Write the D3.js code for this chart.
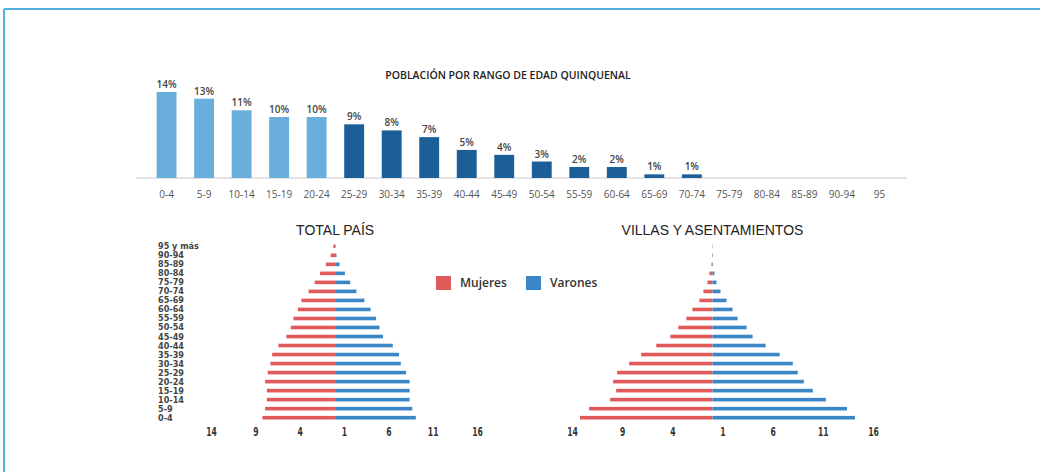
<!DOCTYPE html>
<html>
<head>
<meta charset="utf-8">
<script src="https://cdn.jsdelivr.net/npm/d3@7"></script>
<style>
  body { margin: 0; background: #fff; }
  svg { display: block; font-family: "Open Sans", "DejaVu Sans", sans-serif; }
</style>
</head>
<body>
<svg id="chart" width="1040" height="472"></svg>
<script>
// data
const ageGroups = ["0-4","5-9","10-14","15-19","20-24","25-29","30-34","35-39","40-44","45-49",
                   "50-54","55-59","60-64","65-69","70-74","75-79","80-84","85-89","90-94","95"];
const sharePct = [14.1, 13.0, 11.1, 10.0, 10.0, 8.8, 7.8, 6.7, 4.6, 3.8,
                  2.7, 1.8, 1.8, 0.6, 0.6, 0, 0, 0, 0, 0];
const shareLabels = ["14%","13%","11%","10%","10%","9%","8%","7%","5%","4%",
                     "3%","2%","2%","1%","1%","","","","",""];

const pyramidAges = ["0-4","5-9","10-14","15-19","20-24","25-29","30-34","35-39","40-44","45-49",
                     "50-54","55-59","60-64","65-69","70-74","75-79","80-84","85-89","90-94","95 y más"];
const paisMujeres = [8.2, 7.9, 7.7, 7.7, 7.9, 7.6, 7.3, 7.1, 6.4, 5.5,
                     5.0, 4.7, 4.2, 3.8, 3.0, 2.3, 1.7, 1.05, 0.5, 0.2];
const paisVarones = [9.1, 8.7, 8.4, 8.4, 8.4, 8.0, 7.4, 7.2, 6.5, 5.4,
                     5.0, 4.6, 4.0, 3.3, 2.4, 1.7, 1.1, 0.5, 0.15, 0.05];
const villasMujeres = [13.2, 12.3, 10.2, 9.6, 9.9, 9.5, 8.3, 7.1, 5.6, 4.2,
                       3.4, 2.6, 2.0, 1.3, 0.9, 0.5, 0.3, 0.1, 0.05, 0.02];
const villasVarones = [14.2, 13.4, 11.3, 10.0, 9.1, 8.5, 8.0, 6.7, 5.3, 4.0,
                       3.4, 2.5, 2.0, 1.4, 0.8, 0.4, 0.2, 0.05, 0.03, 0.02];
const pyramidTicks = [-14, -9, -4, 1, 6, 11, 16];

const svg = d3.select("#chart");

// frame
svg.append("line").attr("x1", 4).attr("x2", 1040).attr("y1", 9).attr("y2", 9)
  .attr("stroke", "#4fb3db").attr("stroke-width", 2);
svg.append("line").attr("x1", 4).attr("x2", 4).attr("y1", 9).attr("y2", 472)
  .attr("stroke", "#4fb3db").attr("stroke-width", 2);

// top bar chart
const xBar = d3.scaleBand().domain(ageGroups).range([139, 907]).padding(0.47);
const yBar = d3.scaleLinear().domain([0, 14.1]).range([178, 92]);

svg.append("text").attr("x", 508).attr("y", 79).attr("text-anchor", "middle")
  .attr("font-size", 10.5).attr("font-weight", 600).attr("fill", "#222")
  .text("POBLACIÓN POR RANGO DE EDAD QUINQUENAL");

svg.append("line").attr("x1", 136).attr("x2", 907).attr("y1", yBar(0)).attr("y2", yBar(0))
  .attr("stroke", "#c8c8c8").attr("stroke-width", 1.2);

svg.selectAll(".bar").data(ageGroups).join("rect")
  .attr("class", "bar")
  .attr("x", d => xBar(d))
  .attr("width", xBar.bandwidth())
  .attr("y", (d, i) => yBar(sharePct[i]))
  .attr("height", (d, i) => yBar(0) - yBar(sharePct[i]))
  .attr("fill", (d, i) => i < 5 ? "#6aaedc" : "#1c5f98");

svg.selectAll(".barlab").data(ageGroups).join("text")
  .attr("class", "barlab")
  .attr("x", d => xBar(d) + xBar.bandwidth() / 2)
  .attr("y", (d, i) => yBar(sharePct[i]) - 4)
  .attr("text-anchor", "middle").attr("font-size", 10).attr("font-weight", 600)
  .attr("fill", "#444")
  .text((d, i) => shareLabels[i]);

svg.selectAll(".cat").data(ageGroups).join("text")
  .attr("class", "cat")
  .attr("x", d => xBar(d) + xBar.bandwidth() / 2)
  .attr("y", 198)
  .attr("text-anchor", "middle").attr("font-size", 10).attr("fill", "#555")
  .text(d => d);

// pyramids
const yPyr = d3.scaleBand().domain(pyramidAges).range([419.5, 244.5]).paddingInner(0.6);

function pyramid(x0, x1, mujeres, varones, title, showAges) {
  const x = d3.scaleLinear().domain([-14, 16]).range([x0, x1]);
  const g = svg.append("g");
  g.append("text").attr("x", x(0)).attr("y", 235).attr("text-anchor", "middle")
    .attr("font-size", 14).attr("font-weight", 500).attr("fill", "#222")
    .attr("font-family", "Liberation Sans, Arial, sans-serif")
    .text(title);
  g.selectAll(".m").data(pyramidAges).join("rect")
    .attr("x", (d, i) => x(-mujeres[i]))
    .attr("width", (d, i) => x(0) - x(-mujeres[i]))
    .attr("y", d => yPyr(d)).attr("height", yPyr.bandwidth())
    .attr("fill", "#e05a5c");
  g.selectAll(".v").data(pyramidAges).join("rect")
    .attr("x", x(0))
    .attr("width", (d, i) => x(varones[i]) - x(0))
    .attr("y", d => yPyr(d)).attr("height", yPyr.bandwidth())
    .attr("fill", "#3a86c6");
  const axis = d3.axisBottom(x).tickValues(pyramidTicks).tickSize(0)
    .tickFormat(d => Math.abs(d));
  const ax = g.append("g").attr("transform", "translate(0,428)").call(axis);
  ax.select(".domain").remove();
  ax.selectAll("text").attr("font-size", 10).attr("font-weight", "bold")
    .attr("fill", "#333").attr("font-family", "DejaVu Sans Condensed, DejaVu Sans, sans-serif")
    .attr("transform", "scale(0.85,1.15)")
    .attr("dy", "0.4em");
  ax.selectAll(".tick").each(function () {
    const t = d3.select(this).select("text");
    t.attr("x", 0);
  });
  if (showAges) {
    g.selectAll(".age").data(pyramidAges).join("text")
      .attr("x", 158)
      .attr("y", d => yPyr(d) + yPyr.bandwidth() / 2 + 3)
      .attr("font-size", 9).attr("font-weight", "bold").attr("fill", "#444")
      .attr("font-family", "DejaVu Sans Condensed, DejaVu Sans, sans-serif")
      .text(d => d);
  }
}

pyramid(211, 477, paisMujeres, paisVarones, "TOTAL PAÍS", true);
pyramid(572, 873, villasMujeres, villasVarones, "VILLAS Y ASENTAMIENTOS", false);

// legend
const legend = [["Mujeres", "#e05a5c", 436], ["Varones", "#3a86c6", 526]];
legend.forEach(([name, color, lx]) => {
  svg.append("rect").attr("x", lx).attr("y", 276).attr("width", 15).attr("height", 14)
    .attr("fill", color);
  svg.append("text").attr("x", lx + 24).attr("y", 287).attr("font-size", 12)
    .attr("font-weight", 600).attr("fill", "#333").text(name);
});
</script>
</body>
</html>
